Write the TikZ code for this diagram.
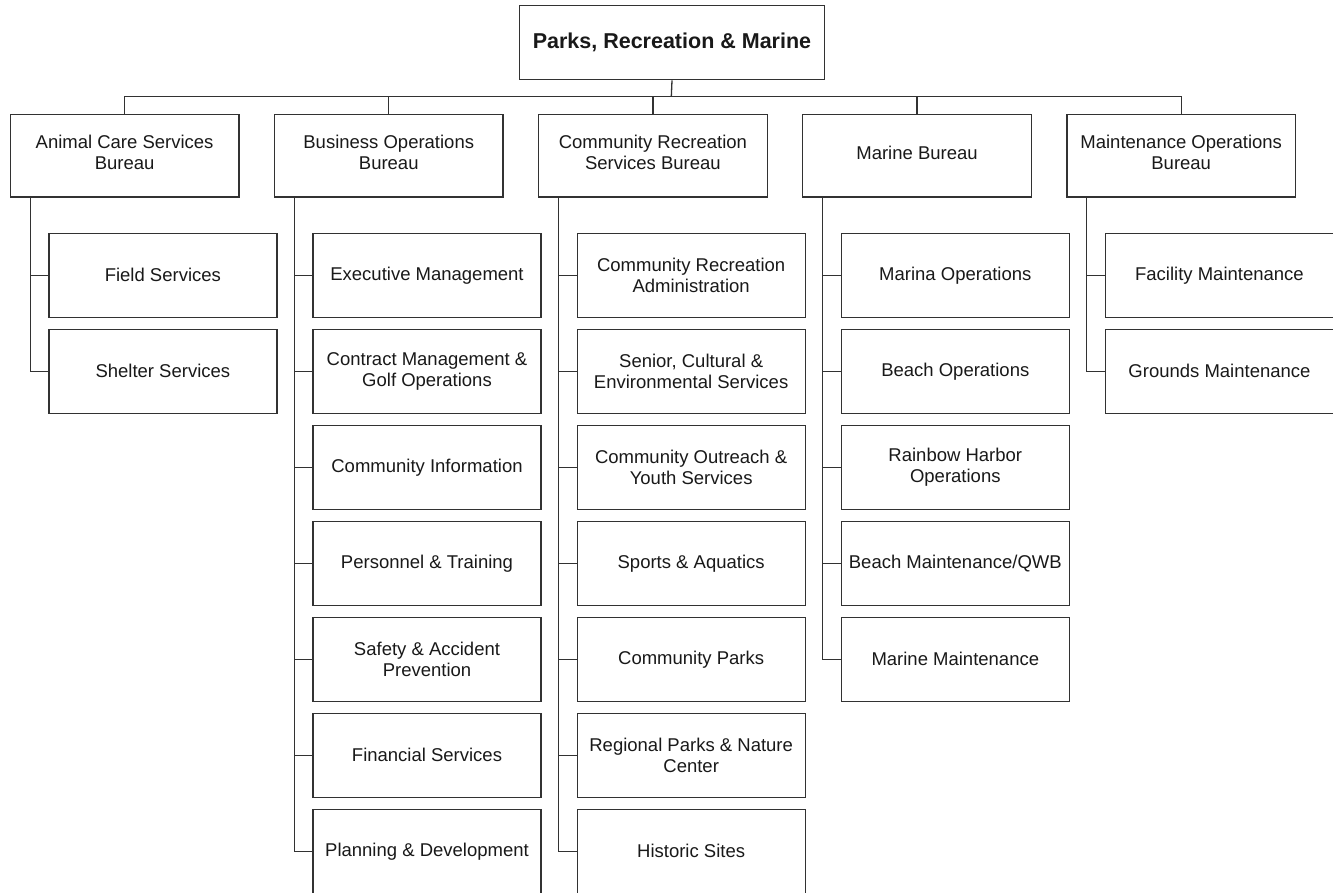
\documentclass[tikz,border=0pt]{standalone}
\usepackage{fontspec}
\setmainfont{Liberation Sans}
\definecolor{ln}{RGB}{50,50,50}
\definecolor{tx}{RGB}{25,25,25}
\begin{document}
\begin{tikzpicture}[x=1pt,y=-1pt,
  box/.style={draw=ln,line width=1.3pt,fill=white,text=tx,align=center,anchor=north west,inner sep=1pt,font=\fontsize{18.5}{21.7}\selectfont},
  bureau/.style={box,minimum width=228.5pt,minimum height=82.3pt,text depth=7pt},
  unit/.style={box,minimum width=228pt,minimum height=84pt},
  link/.style={draw=ln,line width=1.3pt}]
\useasboundingbox[fill=white] (0,0) rectangle (1333,892);

% top
\node[box,minimum width=305.3pt,minimum height=74.3pt,font=\bfseries\fontsize{21.5}{24}\selectfont] (top) at (518.7,4.7) {\raisebox{4pt}{Parks, Recreation \& Marine}};

% bureaus
\node[bureau] (b0) at (9.7,114) {Animal Care Services\\Bureau};
\node[bureau] (b1) at (273.85,114) {Business Operations\\Bureau};
\node[bureau] (b2) at (538.0,114) {Community Recreation\\Services Bureau};
\node[bureau] (b3) at (802.15,114) {Marine Bureau};
\node[bureau] (b4) at (1066.3,114) {Maintenance Operations\\Bureau};

\coordinate (bus) at (671.3,96.7);
\draw[link] (top.south) -- (bus);
\draw[link] (b0.north) |- (bus) -| (b4.north);
\foreach \b in {b1,b2,b3}{\draw[link] (\b.north) -- (\b.north |- bus);}

% Animal Care children
\node[unit] (a1) at (48.2,232.7) {Field Services};
\node[unit] (a2) at (48.2,328.7) {Shelter Services};

% Business Operations children
\node[unit] (p1) at (312.35,232.7) {Executive Management};
\node[unit] (p2) at (312.35,328.7) {Contract Management \&\\Golf Operations};
\node[unit] (p3) at (312.35,424.7) {Community Information};
\node[unit] (p4) at (312.35,520.7) {Personnel \& Training};
\node[unit] (p5) at (312.35,616.7) {Safety \& Accident\\Prevention};
\node[unit] (p6) at (312.35,712.7) {Financial Services};
\node[unit] (p7) at (312.35,808.7) {Planning \& Development};

% Community Recreation children
\node[unit] (c1) at (576.5,232.7) {Community Recreation\\Administration};
\node[unit] (c2) at (576.5,328.7) {Senior, Cultural \&\\Environmental Services};
\node[unit] (c3) at (576.5,424.7) {Community Outreach \&\\Youth Services};
\node[unit] (c4) at (576.5,520.7) {Sports \& Aquatics};
\node[unit] (c5) at (576.5,616.7) {Community Parks};
\node[unit] (c6) at (576.5,712.7) {Regional Parks \& Nature\\Center};
\node[unit] (c7) at (576.5,808.7) {Historic Sites};

% Marine children
\node[unit] (m1) at (840.65,232.7) {Marina Operations};
\node[unit] (m2) at (840.65,328.7) {Beach Operations};
\node[unit] (m3) at (840.65,424.7) {Rainbow Harbor\\Operations};
\node[unit] (m4) at (840.65,520.7) {Beach Maintenance/QWB};
\node[unit] (m5) at (840.65,616.7) {Marine Maintenance};

% Maintenance children
\node[unit] (g1) at (1104.8,232.7) {Facility Maintenance};
\node[unit] (g2) at (1104.8,328.7) {Grounds Maintenance};

% spines
\coordinate (s0) at (30.2,196.3);
\coordinate (s1) at (294.35,196.3);
\coordinate (s2) at (558.5,196.3);
\coordinate (s3) at (822.65,196.3);
\coordinate (s4) at (1086.8,196.3);
\draw[link] (s0) |- (a2.west);
\draw[link] (s1) |- (p7.west);
\draw[link] (s2) |- (c7.west);
\draw[link] (s3) |- (m5.west);
\draw[link] (s4) |- (g2.west);
\foreach \c in {a1}{\draw[link] (\c.west) -- (\c.west -| s0);}
\foreach \c in {p1,p2,p3,p4,p5,p6}{\draw[link] (\c.west) -- (\c.west -| s1);}
\foreach \c in {c1,c2,c3,c4,c5,c6}{\draw[link] (\c.west) -- (\c.west -| s2);}
\foreach \c in {m1,m2,m3,m4}{\draw[link] (\c.west) -- (\c.west -| s3);}
\foreach \c in {g1}{\draw[link] (\c.west) -- (\c.west -| s4);}
\end{tikzpicture}
\end{document}
